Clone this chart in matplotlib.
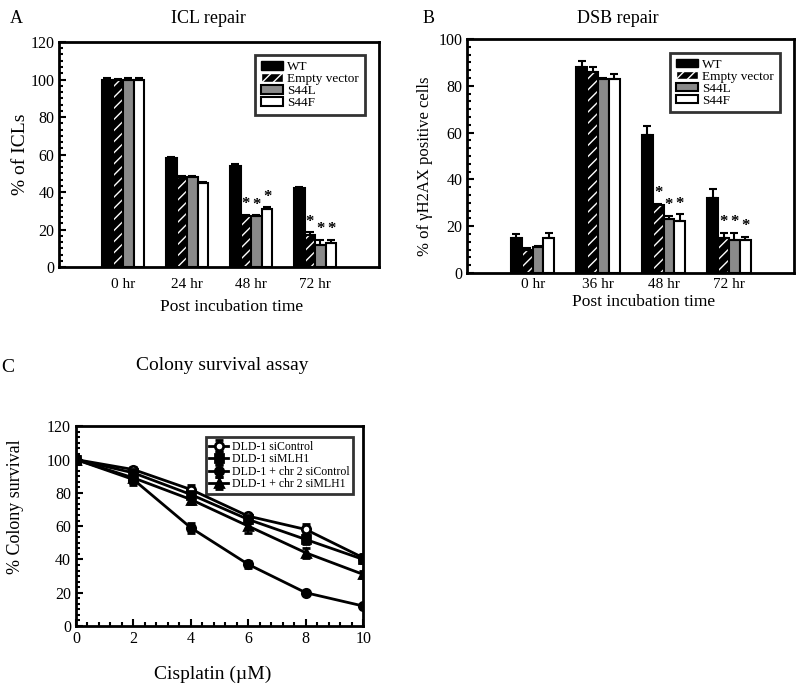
import numpy as np
import matplotlib
matplotlib.use("Agg")
import matplotlib.pyplot as plt
from matplotlib.ticker import MultipleLocator, AutoMinorLocator
from matplotlib.patches import Patch

plt.rcParams['font.family'] = ['Liberation Serif', 'DejaVu Serif']

# Panel A: ICL repair
icl_times = ["0 hr", "24 hr", "48 hr", "72 hr"]
icl_wt = [100, 58, 54, 42]
icl_ev = [100, 48, 27, 17]
icl_s44l = [100, 48, 27, 12]
icl_s44f = [100, 45, 31, 13]
icl_wt_err = [0.8, 0.6, 0.8, 0.8]
icl_ev_err = [0.5, 0.5, 0.8, 1.5]
icl_s44l_err = [0.8, 0.6, 0.6, 2.5]
icl_s44f_err = [0.8, 0.5, 0.8, 1.5]

# Panel B: DSB repair
dsb_times = ["0 hr", "36 hr", "48 hr", "72 hr"]
dsb_wt = [15, 88, 59, 32]
dsb_ev = [10, 86, 29, 15]
dsb_s44l = [11, 83, 23, 14]
dsb_s44f = [15, 83, 22, 14]
dsb_wt_err = [1.5, 2.5, 4, 4]
dsb_ev_err = [0.5, 2, 0.5, 2]
dsb_s44l_err = [0.3, 0.3, 1.5, 3]
dsb_s44f_err = [2, 2, 3, 1.5]

# which bars get an asterisk (group index, series index)
stars = [(2, 1), (2, 2), (2, 3), (3, 1), (3, 2), (3, 3)]

series_labels = ["WT", "Empty vector", "S44L", "S44F"]

# Panel C: colony survival
cis_dose = [0, 2, 4, 6, 8, 10]
si_control = [100, 94, 82, 66, 58, 41]
si_mlh1 = [100, 92, 79, 64, 52, 40]
chr2_si_control = [100, 88, 59, 37, 20, 12]
chr2_si_mlh1 = [100, 89, 76, 60, 44, 31]
si_control_err = [2, 1.5, 2.5, 1.5, 3, 2]
si_mlh1_err = [2, 1.5, 2, 2, 3, 2]
chr2_si_control_err = [1.5, 2, 3, 2, 1, 1]
chr2_si_mlh1_err = [2, 4, 3, 4, 3, 2]

fig = plt.figure(figsize=(8, 6.84), dpi=100)


def style_axes(ax):
    for sp in ax.spines.values():
        sp.set_linewidth(2)
    ax.tick_params(axis='y', which='both', direction='in', right=False, labelsize=11.5)
    ax.tick_params(axis='y', which='major', length=5, width=1.5)
    ax.tick_params(axis='y', which='minor', length=3, width=1.5)


def bar_panel(ax, times, vals, errs, ymax):
    x = np.arange(1, len(times) + 1)
    w = 0.165
    offs = (np.arange(4) - 1.5) * w
    faces = ['black', 'black', '#8a8a8a', 'white']
    for i in range(4):
        pos = x + offs[i]
        if i == 1:
            ax.bar(pos, vals[i], w, color='black', edgecolor='white', hatch='///', lw=0)
            ax.bar(pos, vals[i], w, fill=False, edgecolor='black', lw=1.5)
        else:
            ax.bar(pos, vals[i], w, color=faces[i], edgecolor='black', lw=1.5)
        ax.errorbar(pos, vals[i], yerr=[np.zeros(len(x)), errs[i]], fmt='none',
                    ecolor='black', elinewidth=1.5, capsize=3, capthick=1.5)
    for g, s in stars:
        ax.text(x[g] + offs[s], vals[s][g] + errs[s][g] + ymax * 0.012, '*',
                ha='center', va='bottom', fontsize=12, fontweight='bold')
    ax.set_xlim(0, 5)
    ax.set_ylim(0, ymax)
    ax.set_xticks(x)
    ax.set_xticklabels(times, fontsize=11)
    ax.tick_params(axis='x', length=0, pad=8)
    ax.yaxis.set_major_locator(MultipleLocator(20))
    ax.yaxis.set_minor_locator(AutoMinorLocator(6))
    style_axes(ax)
    h = [Patch(facecolor='black', edgecolor='black'),
         Patch(facecolor='black', edgecolor='white', hatch='///'),
         Patch(facecolor='#8a8a8a', edgecolor='black', lw=1.5),
         Patch(facecolor='white', edgecolor='black', lw=1.5)]
    leg = ax.legend(h, series_labels, loc='upper right', fontsize=9.5,
                    handlelength=1.7, handleheight=0.6, labelspacing=0.0,
                    handletextpad=0.3, fancybox=False, borderpad=0.45,
                    bbox_to_anchor=(0.975, 0.97))
    leg.get_frame().set_edgecolor('black')
    leg.get_frame().set_linewidth(2)


# Panel A
axA = fig.add_axes([0.074, 0.6096, 0.40, 0.329])
bar_panel(axA, icl_times, [icl_wt, icl_ev, icl_s44l, icl_s44f],
          [icl_wt_err, icl_ev_err, icl_s44l_err, icl_s44f_err], 120)
axA.set_ylabel("% of ICLs", fontsize=14, labelpad=1)
axA.set_xlabel("Post incubation time", fontsize=12.5, labelpad=6)
axA.xaxis.label.set_x(0.54)
fig.text(0.012, 0.985, "A", fontsize=13, va='top')
fig.text(0.26, 0.985, "ICL repair", fontsize=13, va='top', ha='center')

# Panel B
axB = fig.add_axes([0.584, 0.601, 0.409, 0.342])
bar_panel(axB, dsb_times, [dsb_wt, dsb_ev, dsb_s44l, dsb_s44f],
          [dsb_wt_err, dsb_ev_err, dsb_s44l_err, dsb_s44f_err], 100)
axB.set_ylabel("% of γH2AX positive cells", fontsize=12, labelpad=4)
axB.yaxis.label.set_y(0.457)
axB.set_xlabel("Post incubation time", fontsize=12.5, labelpad=2)
axB.xaxis.label.set_x(0.54)
axB.tick_params(axis='x', pad=4)
fig.text(0.528, 0.985, "B", fontsize=13, va='top')
fig.text(0.772, 0.985, "DSB repair", fontsize=13, va='top', ha='center')

# Panel C
axC = fig.add_axes([0.095, 0.0848, 0.359, 0.292])
markers = [('o', 'white'), ('s', 'black'), ('o', 'black'), ('^', 'black')]
names = ["DLD-1 siControl", "DLD-1 siMLH1", "DLD-1 + chr 2 siControl", "DLD-1 + chr 2 siMLH1"]
ys = [si_control, si_mlh1, chr2_si_control, chr2_si_mlh1]
es = [si_control_err, si_mlh1_err, chr2_si_control_err, chr2_si_mlh1_err]
for (m, fc), name, y, e in zip(markers, names, ys, es):
    axC.errorbar(cis_dose, y, yerr=e, color='black', lw=2, marker=m, ms=6,
                 mfc=fc, mec='black', mew=2, capsize=3, elinewidth=1.5, capthick=1.5,
                 label=name)
axC.set_xlim(0, 10)
axC.set_ylim(0, 120)
axC.xaxis.set_major_locator(MultipleLocator(2))
axC.xaxis.set_minor_locator(AutoMinorLocator(5))
axC.yaxis.set_major_locator(MultipleLocator(20))
axC.yaxis.set_minor_locator(AutoMinorLocator(6))
style_axes(axC)
axC.tick_params(axis='x', which='both', direction='in', top=False, labelsize=11.5)
axC.tick_params(axis='x', which='major', length=5, width=1.5)
axC.tick_params(axis='x', which='minor', length=3, width=1.5)
axC.set_ylabel("% Colony survival", fontsize=13, labelpad=17)
axC.yaxis.label.set_y(0.595)
fig.text(0.266, 0.014, "Cisplatin (µM)", fontsize=14, ha='center', va='center')
legC = axC.legend(loc='upper right', fontsize=8.5, handlelength=1.6,
                  labelspacing=0.05, handletextpad=0.3, fancybox=False,
                  borderpad=0.3, bbox_to_anchor=(0.985, 0.975))
legC.get_frame().set_edgecolor('black')
legC.get_frame().set_linewidth(2)
fig.text(0.002, 0.475, "C", fontsize=14, va='top')
fig.text(0.278, 0.478, "Colony survival assay", fontsize=14, va='top', ha='center')

fig.savefig("out.png", dpi=100)
